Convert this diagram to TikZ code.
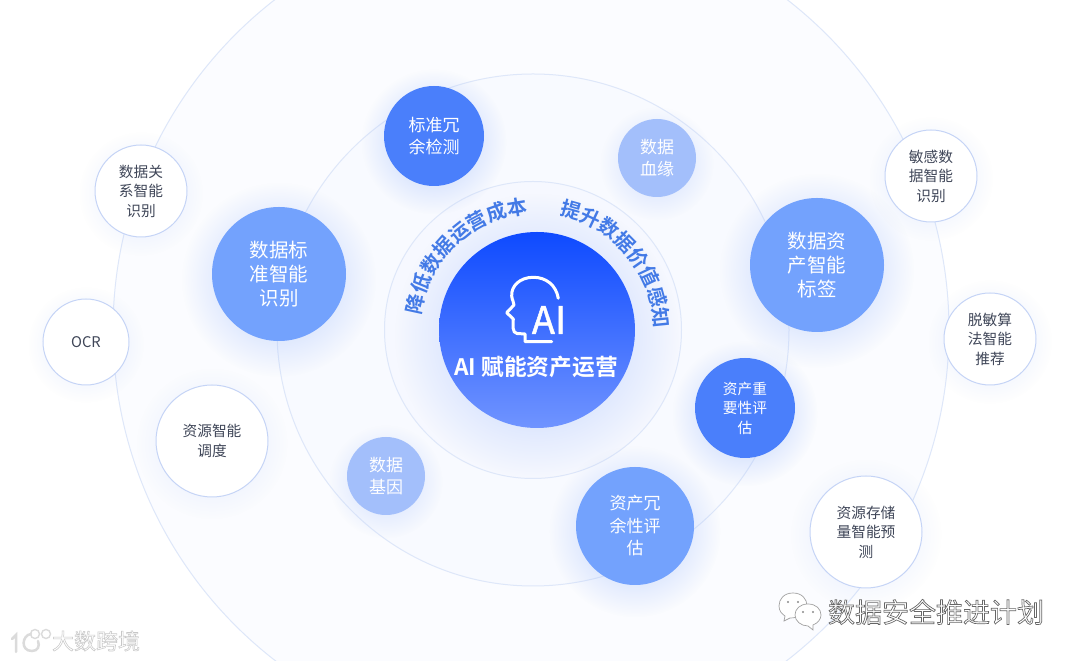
\documentclass[tikz,border=0pt]{standalone}
\usepackage{fontspec}
\setmainfont{Noto Sans CJK SC}
\newfontfamily\cjkbold{Noto Sans CJK SC Bold}
\newfontfamily\cjkoutline[FakeBold=2.5]{Noto Sans CJK SC}
\newfontfamily\cjkthick[FakeBold=1.2]{Noto Sans CJK SC}
\usepackage{tikz}
\usetikzlibrary{shadows,fadings,calc,decorations.text}
\definecolor{ringline}{HTML}{DEE7F9}
\definecolor{ringouter}{HTML}{FBFCFF}
\definecolor{ringmiddle}{HTML}{F8FAFF}
\definecolor{ringinner}{HTML}{F6F8FF}
\definecolor{darkblue}{HTML}{4A7FFB}
\definecolor{midblue}{HTML}{73A2FD}
\definecolor{paleblue}{HTML}{A3BFFB}
\definecolor{bordblue}{HTML}{C5D4F6}
\definecolor{inktext}{HTML}{3F4658}
\definecolor{arcblue}{HTML}{437AE6}
\definecolor{coretop}{HTML}{0E4AFF}
\definecolor{corebottom}{HTML}{7094FF}
\definecolor{markgrey}{HTML}{8A8A8A}
\tikzfading[name=softedge, inner color=transparent!0, outer color=transparent!100]
\newcommand{\hollowtext}[2]{\special{pdf:bcolor [1 1 1] [#1 #1 #1]}#2\special{pdf:ecolor}}
\tikzset{
  bub/.style={circle, minimum size=#1, inner sep=0pt, align=center},
  glow/.style={circular drop shadow={shadow xshift=0pt, shadow yshift=-4pt,
      shadow scale=1.45, fill=#1, opacity=0.75, path fading=softedge}},
  faintglow/.style={circular drop shadow={shadow xshift=0pt, shadow yshift=-2pt,
      shadow scale=1.35, fill=#1, opacity=0.3, path fading=softedge}},
  dark/.style={bub=#1, fill=darkblue, glow=paleblue, text=white},
  mid/.style={bub=#1, fill=midblue, glow=paleblue, text=white},
  pale/.style={bub=#1, fill=paleblue, glow=paleblue!70, text=white},
  plain/.style={bub=#1, fill=white, draw=bordblue, line width=1pt, text=inktext,
    faintglow=paleblue},
  ring/.style={bub=#1, draw=ringline, line width=1pt},
  small/.style={font=\fontsize{14.7}{19.5}\selectfont},
  medium/.style={font=\fontsize{17}{22.5}\selectfont},
  large/.style={font=\fontsize{19.5}{24}\selectfont},
  arctext/.style={decoration={text along path, text align=center,
      text={|\cjkbold\fontsize{20}{20}\selectfont\color{arcblue}|#1}}, decorate},
  iconline/.style={draw=markgrey!80, line width=0.7pt, fill=white},
}
\begin{document}
\begin{tikzpicture}[x=1pt,y=1pt]
  \useasboundingbox (0,0) rectangle (1080,661);
  \clip (0,0) rectangle (1080,661);
  \fill[white] (0,0) rectangle (1080,661);
  % rings
  \node[ring=836pt, fill=ringouter] (ringout) at (531,331) {};
  \node[ring=512pt, fill=ringmiddle] (ringmid) at (533,331) {};
  \node[ring=297pt, fill=ringinner] (ringin) at (533,331) {};
  % centre
  \node[bub=196pt, glow=paleblue, top color=coretop, bottom color=corebottom] (core) at (537,331) {};
  \draw[white, line width=3pt, line cap=round, line join=round]
    (558.3,362.7) .. controls (556,376) and (546,383.7) .. (533.3,383.7)
    .. controls (520,383.7) and (511,375) .. (511.7,365)
    .. controls (512,361) and (514,359) .. (514,356)
    -- (506.7,348.3) -- (513.3,342)
    .. controls (513,336) and (512,328) .. (517,327.5)
    -- (525,327) -- (525,319.3) -- (551.7,319.3);
  \node[white, font=\cjkthick\fontsize{38}{38}\selectfont] (coreai) at (549,341) {AI};
  \node[white, font=\cjkbold\fontsize{22.7}{24}\selectfont] (coretitle) at (536,294) {AI 赋能资产运营};
  \path[arctext={降低数据运营成本}] (core.center) ++(183.5:117pt) arc [start angle=183.5, end angle=83.5, radius=117pt];
  \path[arctext={提升数据价值感知}] (core.center) ++(90:117pt) arc [start angle=90, end angle=-10, radius=117pt];
  % inner bubbles
  \node[dark=100pt, medium] (redund) at (434,525) {标准冗\\余检测};
  \node[pale=78pt, medium] (lineage) at (657,503) {数据\\血缘};
  \node[mid=134pt, large] (stdid) at (279,387) {数据标\\准智能\\识别};
  \node[mid=134pt, large] (tagging) at (817,396) {数据资\\产智能\\标签};
  \node[pale=78pt, medium] (gene) at (386,185) {数据\\基因};
  \node[mid=118pt, medium] (redeval) at (635,135) {资产冗\\余性评\\估};
  \node[dark=100pt, small] (impeval) at (745,253) {资产重\\要性评\\估};
  % outer bubbles
  \node[plain=92pt, small] (relid) at (141,470) {数据关\\系智能\\识别};
  \node[plain=92pt, small] (sensid) at (931,485) {敏感数\\据智能\\识别};
  \node[plain=92pt, small] (maskrec) at (990,322) {脱敏算\\法智能\\推荐};
  \node[plain=86pt, small] (ocr) at (86,319) {OCR};
  \node[plain=112pt, small] (sched) at (212,220) {资源智能\\调度};
  \node[plain=112pt, small] (storage) at (866,129) {资源存储\\量智能预\\测};
  % watermarks
  \begin{scope}[shift={(793,54)}]
    \draw[iconline] (0,14) .. controls (-9,14) and (-14,8) .. (-14,1)
      .. controls (-14,-4) and (-11,-7) .. (-8,-9) -- (-9,-14) -- (-3,-11)
      .. controls (6,-11) and (14,-7) .. (14,1) .. controls (14,8) and (9,14) .. (0,14) -- cycle;
    \fill[markgrey] (-5,5) circle (1.2) (5,5) circle (1.2);
    \draw[iconline] (15,3) .. controls (7,3) and (2,-2) .. (2,-8)
      .. controls (2,-14) and (8,-19) .. (15,-19) -- (20,-23) -- (20,-18)
      .. controls (25,-16) and (28,-12) .. (28,-8) .. controls (28,-2) and (23,3) .. (15,3) -- cycle;
    \fill[markgrey] (10,-5) circle (1.1) (20,-5) circle (1.1);
  \end{scope}
  \node[font=\cjkoutline\fontsize{27}{29}\selectfont] (wechatname) at (936,49)
    {\hollowtext{0.4}{数据安全推进计划}};
  \draw[black!14, line width=2.5pt, line cap=round] (12,22) -- (16,26) -- (16,9)
    (31,27) .. controls (22,26) and (20,10) .. (32,10) .. controls (38,10) and (40,15) .. (38,20);
  \draw[black!14, line width=1.4pt] (35,27) circle (4.5) (46,27) circle (4.5);
  \node[font=\cjkoutline\fontsize{22}{23}\selectfont] (logoname) at (96,20)
    {\hollowtext{0.78}{大数跨境}};
\end{tikzpicture}
\end{document}
